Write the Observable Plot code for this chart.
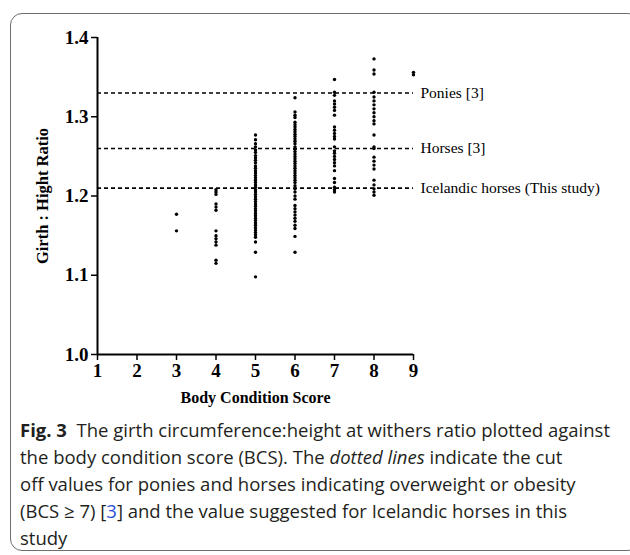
<!DOCTYPE html>
<html>
<head>
<meta charset="utf-8">
<script src="https://cdn.jsdelivr.net/npm/d3@7"></script>
<script src="https://cdn.jsdelivr.net/npm/@observablehq/plot@0.6"></script>
<style>
  html, body { margin: 0; padding: 0; background: #fff; width: 630px; height: 555px; overflow: hidden; }
  #frame { position: absolute; left: 10px; top: 13px; width: 630px; height: 538px; border: 1.5px solid #6e6e6e; border-radius: 12px; box-sizing: border-box; }
  #chart { position: absolute; left: 0; top: 0; }
  #caption { position: absolute; left: 20px; top: 416px; font-family: "Open Sans", sans-serif; font-size: 18.5px; line-height: 27px; color: #231f20; white-space: nowrap; letter-spacing: 0; }
  #caption b { font-weight: 700; }
  #caption .ref { color: #2b50d8; }
</style>
</head>
<body>
<div id="frame"></div>
<div id="chart"></div>
<div id="caption">
  <b>Fig. 3</b>&nbsp; The girth circumference:height at withers ratio plotted against<br>
  the body condition score (BCS). The <i>dotted lines</i> indicate the cut<br>
  off values for ponies and horses indicating overweight or obesity<br>
  (BCS ≥ 7) [<span class="ref">3</span>] and the value suggested for Icelandic horses in this<br>
  study
</div>
<script>
const bcs3 = [1.177, 1.156];
const bcs4 = [1.208, 1.205, 1.202, 1.190, 1.186, 1.182, 1.156, 1.150, 1.146, 1.142, 1.138, 1.119, 1.115];
const bcs5 = [1.277, 1.271, 1.266, 1.262, 1.258, 1.255, 1.251, 1.248, 1.245, 1.242, 1.238, 1.235, 1.232, 1.229, 1.226, 1.223, 1.220, 1.217, 1.214, 1.211, 1.208, 1.205, 1.202, 1.199, 1.196, 1.193, 1.190, 1.187, 1.184, 1.181, 1.178, 1.175, 1.172, 1.169, 1.166, 1.163, 1.160, 1.157, 1.154, 1.151, 1.148, 1.142, 1.129, 1.098];
const bcs6 = [1.324, 1.306, 1.302, 1.299, 1.293, 1.290, 1.287, 1.284, 1.281, 1.278, 1.275, 1.272, 1.269, 1.266, 1.262, 1.259, 1.256, 1.253, 1.250, 1.247, 1.244, 1.241, 1.238, 1.235, 1.232, 1.229, 1.226, 1.223, 1.220, 1.217, 1.213, 1.209, 1.205, 1.200, 1.196, 1.188, 1.184, 1.180, 1.176, 1.172, 1.168, 1.163, 1.159, 1.149, 1.129];
const bcs7 = [1.347, 1.331, 1.327, 1.320, 1.316, 1.312, 1.308, 1.302, 1.287, 1.283, 1.279, 1.275, 1.272, 1.262, 1.257, 1.254, 1.250, 1.246, 1.242, 1.238, 1.232, 1.222, 1.217, 1.211, 1.208, 1.205];
const bcs8 = [1.373, 1.359, 1.354, 1.331, 1.325, 1.320, 1.315, 1.310, 1.305, 1.300, 1.295, 1.291, 1.277, 1.262, 1.260, 1.249, 1.244, 1.239, 1.234, 1.220, 1.214, 1.209, 1.205, 1.201];
const bcs9 = [1.356, 1.353];

const cutValues = [1.33, 1.26, 1.21];
const cutLabels = ["Ponies [3]", "Horses [3]", "Icelandic horses (This study)"];
const xTicks = [1, 2, 3, 4, 5, 6, 7, 8, 9];
const yTicks = [1.0, 1.1, 1.2, 1.3, 1.4];
const xLabel = "Body Condition Score";
const yLabel = "Girth : Hight Ratio";

const groups = [[3, bcs3], [4, bcs4], [5, bcs5], [6, bcs6], [7, bcs7], [8, bcs8], [9, bcs9]];
const points = groups.flatMap(([score, vals]) => vals.map(v => ({score, ratio: v})));

const chart = Plot.plot({
  width: 630,
  height: 410,
  marginLeft: 97,
  marginRight: 217,
  marginTop: 37,
  marginBottom: 56,
  style: {fontFamily: "'Liberation Serif', 'Times New Roman', serif", fontSize: "16px", color: "#000", background: "transparent"},
  x: {domain: [1, 9]},
  y: {domain: [1.0, 1.4]},
  marks: [
    Plot.ruleY(cutValues, {stroke: "#000", strokeWidth: 1.6, strokeDasharray: "4,3"}),
    Plot.dot(points, {x: "score", y: "ratio", r: 1.7, fill: "#000", stroke: null}),
    Plot.ruleX([1], {stroke: "#000", strokeWidth: 2}),
    Plot.ruleY([1.0], {stroke: "#000", strokeWidth: 2}),
    Plot.axisX({ticks: xTicks, tickSize: 6, tickPadding: 3, tickFormat: d3.format("d"), label: null, fontWeight: "bold", fontSize: 19, strokeWidth: 1.5}),
    Plot.axisY({ticks: yTicks, tickSize: 6, tickPadding: 3, tickFormat: d3.format(".1f"), label: null, fontWeight: "bold", fontSize: 19, strokeWidth: 1.5}),
    Plot.text(cutValues, {x: 9, y: d => d, text: (d, i) => cutLabels[i], textAnchor: "start", dx: 7, fontSize: 15.5, fill: "#000"}),
    Plot.text([xLabel], {frameAnchor: "bottom", dy: 48, textAnchor: "middle", text: d => d, fontWeight: "bold", fontSize: 16, fill: "#000"}),
    Plot.text([yLabel], {frameAnchor: "left", dx: -55, textAnchor: "middle", rotate: -90, text: d => d, fontWeight: "bold", fontSize: 16.5, fill: "#000"})
  ]
});
document.getElementById("chart").appendChild(chart);
</script>
</body>
</html>
